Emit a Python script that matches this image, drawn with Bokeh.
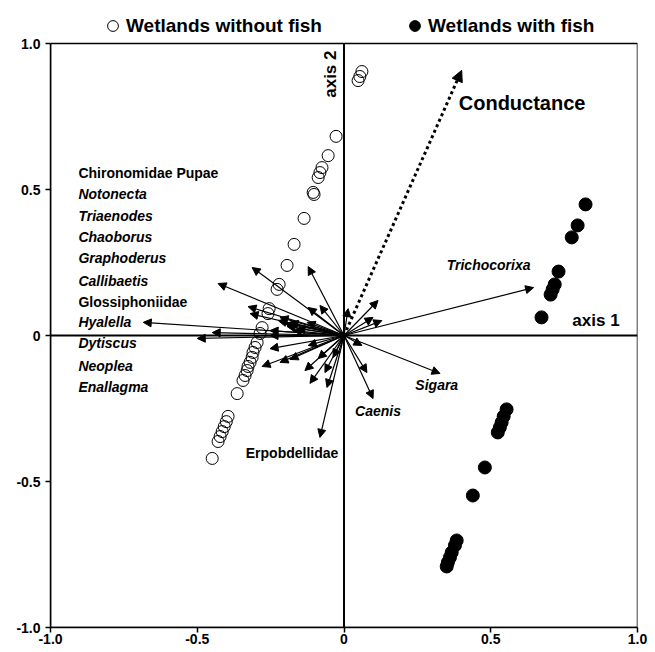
from bokeh.plotting import figure
from bokeh.models import (Range1d, FixedTicker, Span, Arrow, NormalHead, ColumnDataSource,
                          Label, Legend, LegendItem, BoxAnnotation)
from bokeh.embed import file_html
from bokeh.resources import INLINE

# ---- data -------------------------------------------------------------
# site scores, wetlands without fish (open circles)
no_fish_x = [0.048, 0.054, 0.061, -0.027, -0.054, -0.075, -0.082, -0.088, -0.105, -0.102,
             -0.136, -0.170, -0.194, -0.221, -0.228, -0.255, -0.259, -0.279, -0.286, -0.296,
             -0.303, -0.310, -0.313, -0.320, -0.327, -0.330, -0.337, -0.344, -0.364, -0.395,
             -0.401, -0.408, -0.415, -0.422, -0.429, -0.449]
no_fish_y = [0.873, 0.887, 0.904, 0.682, 0.616, 0.575, 0.558, 0.541, 0.490, 0.483,
             0.401, 0.312, 0.240, 0.175, 0.158, 0.092, 0.075, 0.027, 0.007, -0.024,
             -0.041, -0.058, -0.075, -0.092, -0.106, -0.120, -0.137, -0.154, -0.199, -0.277,
             -0.295, -0.312, -0.329, -0.346, -0.363, -0.421]

# site scores, wetlands with fish (filled circles)
fish_x = [0.823, 0.796, 0.776, 0.731, 0.718, 0.711, 0.704, 0.673,
          0.554, 0.544, 0.537, 0.531, 0.524, 0.480, 0.439,
          0.384, 0.378, 0.367, 0.361, 0.354, 0.350]
fish_y = [0.449, 0.377, 0.336, 0.219, 0.175, 0.158, 0.140, 0.062,
          -0.253, -0.277, -0.298, -0.315, -0.332, -0.452, -0.548,
          -0.702, -0.719, -0.743, -0.760, -0.777, -0.791]

# taxa vectors (arrow tips)
taxa_x = [0.646, 0.327, 0.099, -0.082, -0.684, -0.449, -0.500, -0.429, -0.313, -0.122,
          -0.082, -0.122, -0.327, -0.320, -0.224, -0.201, -0.252, -0.173, -0.252, -0.279,
          -0.218, -0.184, -0.122, -0.133, -0.116, -0.065, -0.058, 0.014, 0.116, 0.099,
          0.129, 0.061, 0.078, -0.037, -0.088, -0.194, -0.160, -0.126, -0.218, -0.184,
          -0.252]
taxa_y = [0.164, -0.130, -0.216, -0.349, 0.045, 0.010, -0.010, 0.178, 0.233, 0.236,
          0.103, 0.096, 0.099, 0.075, 0.051, 0.041, 0.017, 0.017, -0.045, -0.106,
          -0.092, -0.082, -0.034, -0.120, -0.164, -0.127, -0.178, 0.092, 0.120, 0.062,
          0.051, -0.034, -0.127, -0.075, -0.079, 0.031, 0.024, 0.045, 0.062, 0.045,
          0.000]

# environmental vector
conductance_x = 0.401
conductance_y = 0.908

left_taxa = ["Chironomidae Pupae", "Notonecta", "Triaenodes", "Chaoborus", "Graphoderus",
             "Callibaetis", "Glossiphoniidae", "Hyalella", "Dytiscus", "Neoplea", "Enallagma"]
left_taxa_italic = [False, True, True, True, True, True, False, True, True, True, True]

tick_values = [-1.0, -0.5, 0.0, 0.5, 1.0]
tick_labels = ["-1.0", "-0.5", "0", "0.5", "1.0"]

FONT = "Liberation Sans"

# ---- figure -----------------------------------------------------------
# the frame reaches up to the page top so that the legend (drawn above the box) is not clipped
TOP_EXTRA = 43 / 292.0
p = figure(frame_width=587, frame_height=627, output_backend="svg", toolbar_location=None,
           x_range=Range1d(-1, 1), y_range=Range1d(-1, 1 + TOP_EXTRA),
           min_border_left=50, min_border_right=18, min_border_top=0, min_border_bottom=23)
p.grid.visible = False
p.background_fill_color = "white"
p.border_fill_color = "white"
p.outline_line_color = None

for ax in (p.xaxis[0], p.yaxis[0]):
    ax.ticker = FixedTicker(ticks=tick_values)
    ax.major_label_overrides = {v: s for v, s in zip(tick_values, tick_labels)}
    ax.minor_tick_line_color = None
    ax.major_tick_in = 0
    ax.major_tick_out = 5
    ax.major_tick_line_width = 1.5
    ax.axis_line_width = 1.5
    ax.major_label_text_font = FONT
    ax.major_label_text_font_style = "bold"
    ax.major_label_text_font_size = "14px"
    ax.major_label_text_color = "black"
p.yaxis[0].bounds = (-1, 1)
p.xaxis[0].major_label_standoff = 1
p.yaxis[0].major_label_standoff = 5

# plot box
p.add_layout(BoxAnnotation(left=-1, right=1, bottom=-1, top=1, fill_alpha=0,
                           line_color="black", line_width=1.5, line_alpha=1))

# axis lines through origin
p.add_layout(Span(location=0, dimension="width", line_color="black", line_width=2))
p.segment(x0=[0], y0=[-1], x1=[0], y1=[1], line_color="black", line_width=2)

# taxa arrows
src = ColumnDataSource(dict(x0=[0.0] * len(taxa_x), y0=[0.0] * len(taxa_y), x1=taxa_x, y1=taxa_y))
p.add_layout(Arrow(source=src, x_start="x0", y_start="y0", x_end="x1", y_end="y1",
                   line_color="black", line_width=1.2,
                   end=NormalHead(size=8, fill_color="black", line_color="black", line_width=1)))

# conductance arrow (dotted)
p.add_layout(Arrow(x_start=0.0, y_start=0.0, x_end=conductance_x, y_end=conductance_y,
                   line_color="black", line_width=3, line_dash="3 3",
                   end=NormalHead(size=11, fill_color="black", line_color="black", line_width=1)))

# sites
r_open = p.scatter(no_fish_x, no_fish_y, marker="circle", size=12, line_color="black",
                   line_width=1, fill_alpha=0)
r_fill = p.scatter(fish_x, fish_y, marker="circle", size=13, line_color="black",
                   fill_color="black")

# text labels
def lab(x, y, text, size="14px", style="bold", align="left", baseline="middle", angle=0.0):
    p.add_layout(Label(x=x, y=y, text=text, text_font=FONT, text_font_size=size,
                       text_font_style=style, text_align=align, text_baseline=baseline,
                       angle=angle, text_color="black"))

row_y = [0.555, 0.483, 0.408, 0.336, 0.264, 0.188, 0.116, 0.045, -0.027, -0.103, -0.175]
for name, it, yy in zip(left_taxa, left_taxa_italic, row_y):
    lab(-0.905, yy, name, style="bold italic" if it else "bold")

lab(0.350, 0.240, "Trichocorixa", style="bold italic")
lab(0.316, -0.170, "Sigara", style="bold italic", align="center")
lab(0.116, -0.259, "Caenis", style="bold italic", align="center")
lab(-0.177, -0.403, "Erpobdellidae", style="bold", align="center")
lab(0.391, 0.795, "Conductance", size="20px", style="bold")
lab(0.939, 0.018, "axis 1", size="17px", style="bold", align="right", baseline="bottom")
lab(-0.012, 0.976, "axis 2", size="17px", style="bold", align="right", baseline="bottom",
    angle=1.5708)

# legend above the box
legend = Legend(items=[LegendItem(label="Wetlands without fish", renderers=[r_open]),
                       LegendItem(label="Wetlands with fish", renderers=[r_fill])],
                orientation="horizontal", location=(49, 588),
                label_text_font=FONT, label_text_font_size="19px", label_text_font_style="bold",
                label_text_color="black",
                glyph_width=27, glyph_height=27, label_standoff=0, spacing=79,
                padding=0, margin=0, border_line_alpha=0, background_fill_alpha=0)
p.add_layout(legend)

open("out.html", "w").write(file_html(p, INLINE))
